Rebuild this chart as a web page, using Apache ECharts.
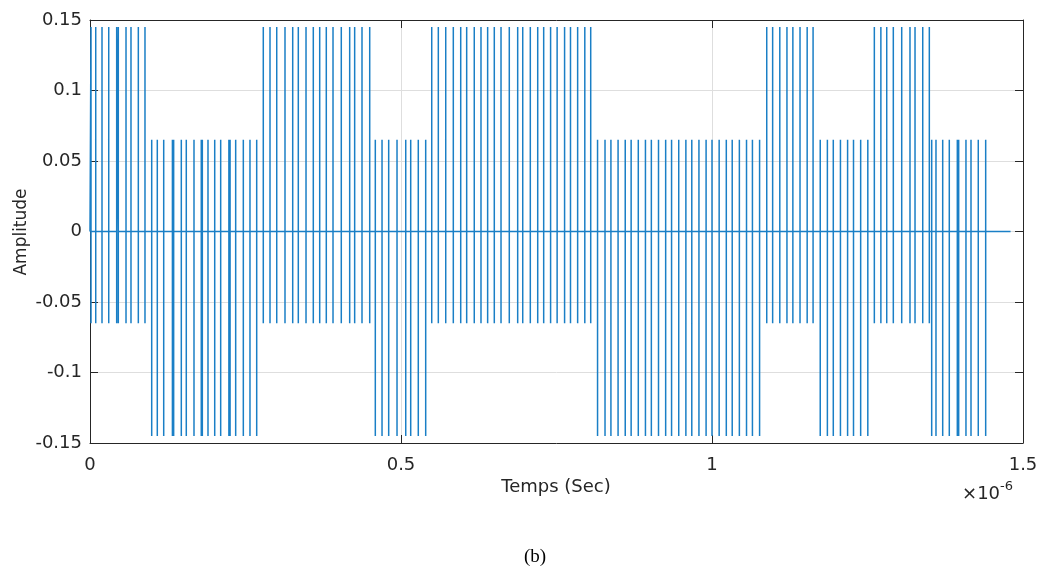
<!DOCTYPE html>
<html>
<head>
<meta charset="utf-8">
<script src="https://cdn.jsdelivr.net/npm/echarts@6/dist/echarts.min.js"></script>
<style>
  html, body { margin: 0; padding: 0; background: #fff; }
  #chart { width: 1043px; height: 572px; }
</style>
</head>
<body>
<div id="chart"></div>
<script>
// pulse instants (ns)
const pulseTimesNs = [
  1.6, 9.2, 19.3, 30.1, 42.9, 45.5, 57.9, 65.9, 77.7, 88.4,
  99.2, 108.2, 118.5, 132.5, 134.5, 146.8, 154.8, 167.2, 178.9, 180.6,
  189.7, 200.5, 210.1, 223.3, 225.2, 234.2, 246.5, 257.2, 268, 278.6,
  289.4, 300.2, 313.5, 325.9, 334.9, 347.3, 359, 369.3, 379.9, 390.7,
  404, 417.5, 425.5, 437.3, 449.7, 458.7, 469.5, 480.2, 493.6, 507.6,
  515.6, 527.8, 539.7, 549.4, 560, 571.9, 584.1, 596, 605.6, 617.8,
  628.6, 639.3, 650, 660.8, 674.1, 687.6, 695.7, 707.9, 719.8, 729.4,
  740.5, 751, 763, 772.5, 784, 795.5, 805, 816, 828, 837.5,
  849, 860.5, 870, 881.5, 893, 902.5, 914, 925.5, 935, 946.5,
  958, 967.5, 979, 990.5, 1000, 1011.5, 1023, 1032.5, 1044, 1055.5,
  1065, 1076.5, 1088, 1097.5, 1109, 1120.5, 1130, 1141.5, 1153, 1162.5,
  1174, 1185.5, 1195, 1206.5, 1218, 1227.5, 1239, 1250.5, 1261, 1271.5,
  1280.9, 1291.5, 1305, 1318.3, 1326.4, 1338.8, 1349.4, 1353.2, 1360.1, 1370.9,
  1381.5, 1394.4, 1396.6, 1408.3, 1416.4, 1428.1, 1440
];
const bits = [1, 0, 0, 1, 1, 0, 1, 1, 1, 0, 0, 0, 1, 0, 1, 0];
const bitDurationNs = 90;
const peakByBit = [0.065, 0.145];
const troughByBit = [-0.145, -0.065];
const baselineEndNs = 1480;
const xTickLabels = ['0', '0.5', '1', '1.5'];

const axisColor = '#262626';
const font = 'DejaVu Sans';

const signal = [[0, 0]];
pulseTimesNs.forEach(t => {
  const b = bits[Math.min(Math.floor(t / bitDurationNs), bits.length - 1)];
  signal.push([t, 0], [t, peakByBit[b]], [t, troughByBit[b]], [t, 0]);
});
signal.push([baselineEndNs, 0]);

const chart = echarts.init(document.getElementById('chart'));

const boxAxis = {
  axisLine: { show: true, onZero: false, lineStyle: { color: axisColor, width: 1 } },
  axisTick: { show: true, inside: true, length: 8, lineStyle: { color: axisColor } },
  axisLabel: { show: false },
  splitLine: { show: false }
};

chart.setOption({
  animation: false,
  grid: { left: 90, top: 20, width: 933, height: 423, containLabel: false },
  xAxis: [
    {
      type: 'value', min: 0, max: 1500, interval: 500, position: 'bottom',
      axisLine: { show: true, onZero: false, lineStyle: { color: axisColor, width: 1 } },
      axisTick: { show: true, inside: true, length: 8, lineStyle: { color: axisColor } },
      axisLabel: {
        color: axisColor, fontSize: 18, fontFamily: font, margin: 13,
        formatter: v => xTickLabels[Math.round(v / 500)]
      },
      splitLine: { show: true, lineStyle: { color: '#dedede', width: 1 } }
    },
    Object.assign({ type: 'value', min: 0, max: 1500, interval: 500, position: 'top' }, boxAxis)
  ],
  yAxis: [
    {
      type: 'value', min: -0.15, max: 0.15, interval: 0.05, position: 'left',
      axisLine: { show: true, onZero: false, lineStyle: { color: axisColor, width: 1 } },
      axisTick: { show: true, inside: true, length: 8, lineStyle: { color: axisColor } },
      axisLabel: {
        color: axisColor, fontSize: 18, fontFamily: font, margin: 8,
        formatter: v => String(+v.toFixed(2))
      },
      splitLine: { show: true, lineStyle: { color: '#dedede', width: 1 } }
    },
    Object.assign({ type: 'value', min: -0.15, max: 0.15, interval: 0.05, position: 'right' }, boxAxis)
  ],
  series: [{
    type: 'line',
    data: signal,
    showSymbol: false,
    symbol: 'none',
    lineStyle: { color: '#1a7fc6', width: 1.5 },
    z: 3
  }],
  graphic: [
    {
      type: 'text', x: 22, y: 232, rotation: Math.PI / 2,
      style: { text: 'Amplitude', fill: axisColor, font: '17px "DejaVu Sans"', align: 'center', verticalAlign: 'middle' }
    },
    {
      type: 'text', x: 556, y: 487,
      style: { text: 'Temps (Sec)', fill: axisColor, font: '18px "DejaVu Sans"', align: 'center', verticalAlign: 'middle' }
    },
    {
      type: 'text', x: 1013, y: 492,
      style: {
        text: '{a|×10}{b|-6}',
        align: 'right', verticalAlign: 'middle',
        rich: {
          a: { fontSize: 18, fontFamily: font, fill: axisColor, verticalAlign: 'bottom' },
          b: { fontSize: 13, fontFamily: font, fill: axisColor, verticalAlign: 'top', padding: [0, 0, 10, 0] }
        }
      }
    },
    {
      type: 'text', x: 535, y: 557,
      style: { text: '(b)', fill: '#000', font: '19px "Liberation Serif"', align: 'center', verticalAlign: 'middle' }
    }
  ]
});
</script>
</body>
</html>
